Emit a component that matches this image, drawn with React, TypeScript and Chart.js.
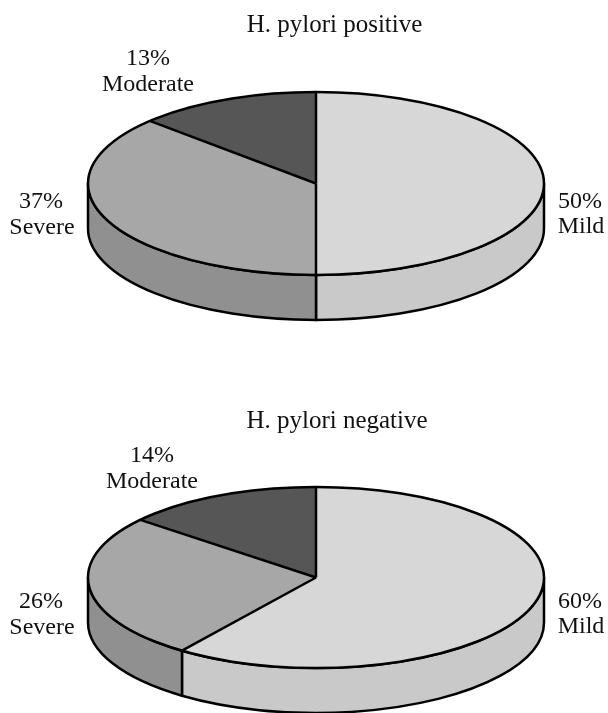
import React, { useEffect, useRef } from "react";
import { Chart, registerables } from "chart.js";

Chart.register(...registerables);

const categories = ["Mild", "Severe", "Moderate"];
const positiveTitle = "H. pylori positive";
const negativeTitle = "H. pylori negative";
const positiveValues = [50, 37, 13];
const negativeValues = [60, 26, 14];

const topColors = ["#d7d7d7", "#a7a7a7", "#565656"];
const wallColors = ["#c9c9c9", "#909090", "#444444"];
const FONT = '24px "Liberation Serif", serif';
const TITLE_FONT = '25px "Liberation Serif", serif';

type PieLayout = {
  height: number;
  title: string;
  values: number[];
  cy: number;
  ry: number;
  depth: number;
  titlePos: [number, number];
  labelPos: [number, number, number, number][];
};

const RX = 228;
const CX = 316;
const LINE = 2.5;

const layouts: PieLayout[] = [
  {
    height: 390,
    title: positiveTitle,
    values: positiveValues,
    cy: 183.5,
    ry: 91.5,
    depth: 45,
    titlePos: [334.5, 32],
    labelPos: [
      [580, 208, 581, 233],
      [41, 208, 42, 234],
      [148, 65, 148, 91],
    ],
  },
  {
    height: 323,
    title: negativeTitle,
    values: negativeValues,
    cy: 187.5,
    ry: 90.5,
    depth: 45,
    titlePos: [337, 38],
    labelPos: [
      [580, 218, 581, 243],
      [41, 218, 42, 244],
      [152, 72, 152, 98],
    ],
  },
];

function makePlugin(l: PieLayout) {
  const arcs = (chart: any) =>
    chart.getDatasetMeta(0).data.map((el: any) => el.getProps(["startAngle", "endAngle"], true));

  return {
    id: "pie3d",
    beforeDatasetsDraw(chart: any) {
      const ctx = chart.ctx;
      ctx.save();
      ctx.lineWidth = LINE;
      ctx.strokeStyle = "#000";
      ctx.lineJoin = "round";
      arcs(chart).forEach((a: any, i: number) => {
        const s = Math.max(a.startAngle, 0);
        const e = Math.min(a.endAngle, Math.PI);
        if (e <= s) return;
        ctx.beginPath();
        ctx.ellipse(CX, l.cy, RX, l.ry, 0, s, e);
        ctx.ellipse(CX, l.cy + l.depth, RX, l.ry, 0, e, s, true);
        ctx.closePath();
        ctx.fillStyle = wallColors[i];
        ctx.fill();
        ctx.stroke();
      });
      ctx.restore();
      const meta = chart.getDatasetMeta(0).data[0];
      ctx.save();
      ctx.translate(CX, l.cy);
      ctx.scale(1, l.ry / RX);
      ctx.translate(-meta.x, -meta.y);
    },
    afterDatasetsDraw(chart: any) {
      const ctx = chart.ctx;
      ctx.restore();
      ctx.save();
      ctx.lineWidth = LINE;
      ctx.strokeStyle = "#000";
      ctx.lineJoin = "round";
      arcs(chart).forEach((a: any) => {
        ctx.beginPath();
        ctx.moveTo(CX, l.cy);
        ctx.lineTo(CX + RX * Math.cos(a.startAngle), l.cy + l.ry * Math.sin(a.startAngle));
        ctx.stroke();
      });
      ctx.beginPath();
      ctx.ellipse(CX, l.cy, RX, l.ry, 0, 0, Math.PI * 2);
      ctx.stroke();

      ctx.fillStyle = "#111";
      ctx.textAlign = "center";
      ctx.textBaseline = "alphabetic";
      ctx.font = TITLE_FONT;
      ctx.fillText(l.title, l.titlePos[0], l.titlePos[1]);
      ctx.font = FONT;
      l.values.forEach((v, i) => {
        const p = l.labelPos[i];
        ctx.fillText(`${v}%`, p[0], p[1]);
        ctx.fillText(categories[i], p[2], p[3]);
      });
      ctx.restore();
    },
  };
}

function Pie({ layout }: { layout: PieLayout }) {
  const ref = useRef<HTMLCanvasElement>(null);
  useEffect(() => {
    const chart = new Chart(ref.current as HTMLCanvasElement, {
      type: "pie",
      data: {
        labels: categories,
        datasets: [
          {
            data: layout.values,
            backgroundColor: topColors,
            borderWidth: 0,
            radius: RX,
          } as any,
        ],
      },
      options: {
        responsive: false,
        animation: false,
        events: [],
        layout: { padding: { left: 88, right: 64, top: 0, bottom: 0 } },
        plugins: { legend: { display: false }, tooltip: { enabled: false } },
      },
      plugins: [makePlugin(layout)],
    });
    return () => chart.destroy();
  }, [layout]);
  return (
    <canvas
      ref={ref}
      width={608}
      height={layout.height}
      style={{ display: "block", width: 608, height: layout.height }}
    />
  );
}

export default function App() {
  return (
    <div style={{ position: "fixed", left: 0, top: 0, width: 608, height: 713, overflow: "hidden", background: "#fff" }}>
      {layouts.map((l) => (
        <Pie key={l.title} layout={l} />
      ))}
    </div>
  );
}
